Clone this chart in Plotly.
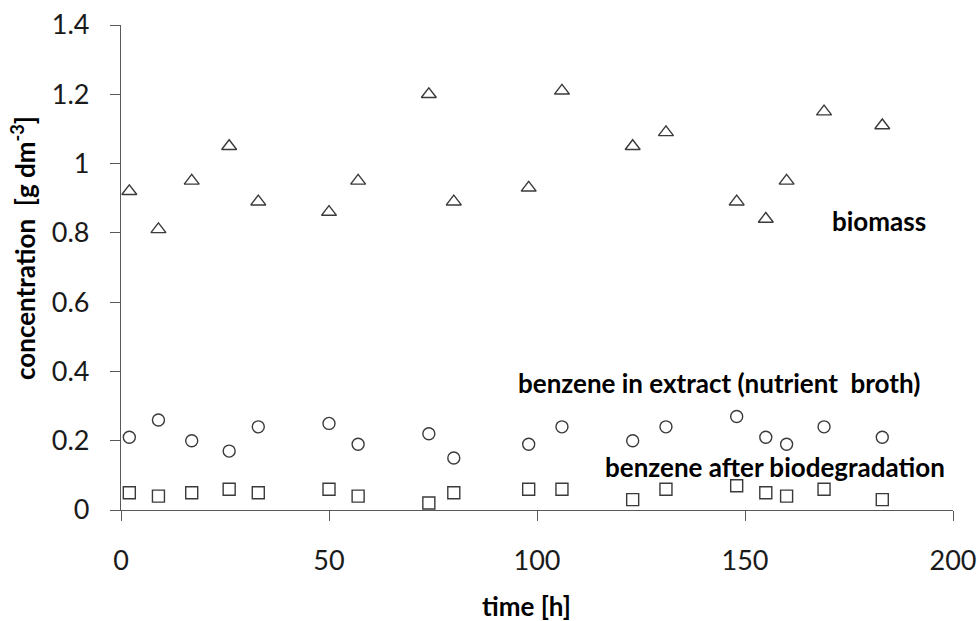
import plotly.graph_objects as go

time_h = [2, 9, 17, 26, 33, 50, 57, 74, 80, 98, 106, 123, 131, 148, 155, 160, 169, 183]
biomass = [0.92, 0.81, 0.95, 1.05, 0.89, 0.86, 0.95, 1.20, 0.89, 0.93, 1.21, 1.05, 1.09, 0.89, 0.84, 0.95, 1.15, 1.11]
benzene_extract = [0.21, 0.26, 0.20, 0.17, 0.24, 0.25, 0.19, 0.22, 0.15, 0.19, 0.24, 0.20, 0.24, 0.27, 0.21, 0.19, 0.24, 0.21]
benzene_after = [0.05, 0.04, 0.05, 0.06, 0.05, 0.06, 0.04, 0.02, 0.05, 0.06, 0.06, 0.03, 0.06, 0.07, 0.05, 0.04, 0.06, 0.03]

x_ticks = [0, 50, 100, 150, 200]
y_ticks = [0, 0.2, 0.4, 0.6, 0.8, 1, 1.2, 1.4]
y_tick_text = ["0", "0.2", "0.4", "0.6", "0.8", "1", "1.2", "1.4"]

MK = "#3a3a3a"
AX = "#595959"
FONT = "Lato"

L, R, T, B = 121, 24, 25, 111
W, H = 977, 621
pw, ph = W - L - R, H - T - B

def px_to_paper(px, py):
    return (px - L) / pw, (H - B - py) / ph

fig = go.Figure()
fig.add_trace(go.Scatter(x=time_h, y=biomass, mode="markers", name="biomass",
                         marker=dict(symbol="triangle-up-open", size=13, color=MK, line=dict(width=1.4, color=MK))))
fig.add_trace(go.Scatter(x=time_h, y=benzene_extract, mode="markers", name="benzene in extract",
                         marker=dict(symbol="circle-open", size=12, color=MK, line=dict(width=1.4, color=MK))))
fig.add_trace(go.Scatter(x=time_h, y=benzene_after, mode="markers", name="benzene after biodegradation",
                         marker=dict(symbol="square-open", size=12, color=MK, line=dict(width=1.4, color=MK))))

ann_font = dict(family=FONT, size=26, color="#000000")
for x, y, t in [(182.3, 0.834, "biomass"),
                (143.8, 0.366, "benzene in extract (nutrient &nbsp;broth)"),
                (157.3, 0.125, "benzene after biodegradation")]:
    fig.add_annotation(x=x, y=y, xref="x", yref="y", text="<b>" + t + "</b>", showarrow=False,
                       font=ann_font, xanchor="center", yanchor="middle")

# axis titles
tx, ty = px_to_paper(526, 606)
fig.add_annotation(x=tx, y=ty, xref="paper", yref="paper", text="<b>time [h]</b>", showarrow=False,
                   font=ann_font, xanchor="center", yanchor="middle")
yx, yy = px_to_paper(23, 248)
fig.add_annotation(x=yx, y=yy, xref="paper", yref="paper",
                   text="<b>concentration &nbsp;[g dm<sup>-3</sup>]</b>", textangle=-90,
                   showarrow=False, font=ann_font, xanchor="center", yanchor="middle")

fig.update_layout(
    width=W, height=H,
    margin=dict(l=L, r=R, t=T, b=B, autoexpand=False),
    paper_bgcolor="white", plot_bgcolor="white",
    showlegend=False,
    font=dict(family=FONT, color="#000000"),
)

fig.update_xaxes(range=[0, 200], tickvals=x_ticks, showgrid=False, zeroline=False, automargin=False,
                 showline=True, linecolor=AX, linewidth=1.3, ticks="outside", ticklen=10,
                 tickcolor=AX, tickwidth=1.3, tickfont=dict(family=FONT, size=27, color="#1a1a1a"),
                 ticklabelstandoff=16)
fig.update_yaxes(range=[0, 1.4], tickvals=y_ticks, ticktext=y_tick_text, showgrid=False, zeroline=False,
                 automargin=False,
                 showline=True, linecolor=AX, linewidth=1.3, ticks="outside", ticklen=10,
                 tickcolor=AX, tickwidth=1.3, tickfont=dict(family=FONT, size=27, color="#1a1a1a"),
                 ticklabelstandoff=15)

fig.write_html("out.html", config={"displayModeBar": False},
               post_script="document.body.style.margin='0';document.body.style.overflow='hidden';")
